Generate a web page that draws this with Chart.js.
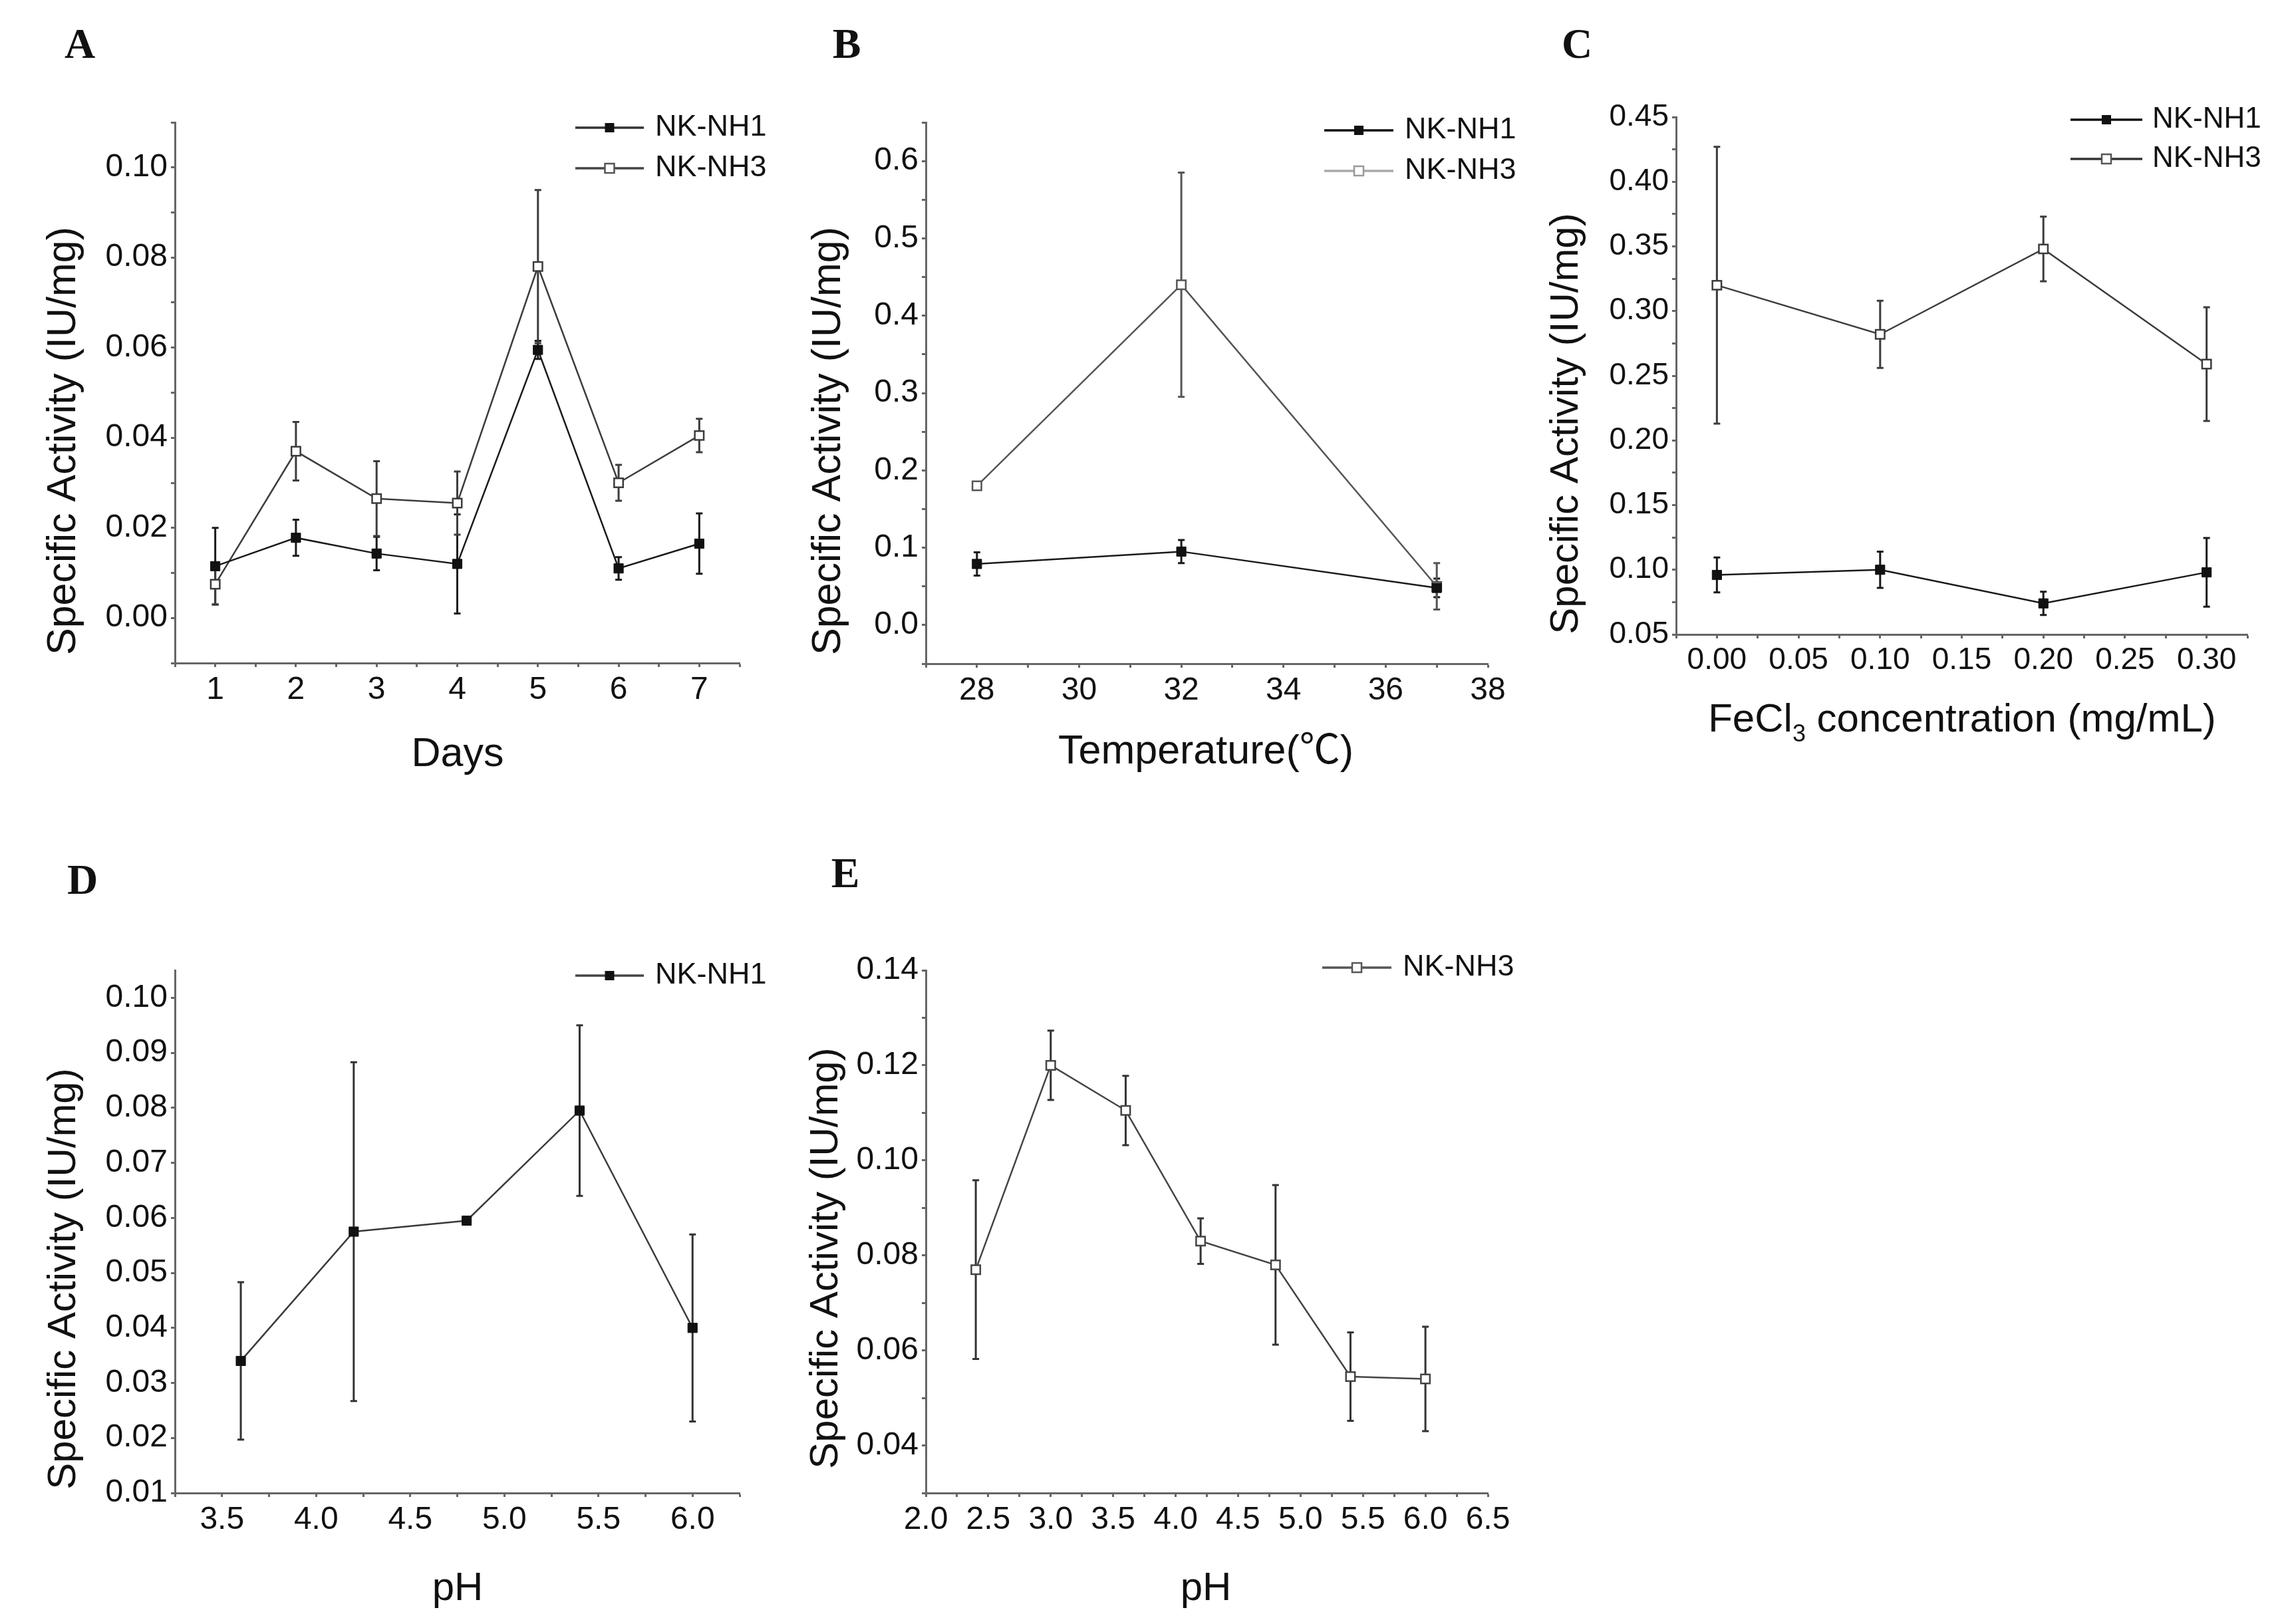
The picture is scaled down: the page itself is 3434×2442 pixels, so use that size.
<!DOCTYPE html>
<html>
<head>
<meta charset="utf-8">
<script src="https://cdn.jsdelivr.net/npm/chart.js@4.4.1/dist/chart.umd.min.js"></script>
<style>
html, body { margin: 0; padding: 0; background: #fff; }
#fig { position: relative; width: 3434px; height: 2442px; background: #fff; }
#fig canvas { position: absolute; left: 0; top: 0; }
</style>
</head>
<body>
<div id="fig"></div>
<script>
// A - days
const daysX = [1, 2, 3, 4, 5, 6, 7];
const daysNH1 = [0.0115, 0.0178, 0.0143, 0.0120, 0.0595, 0.0110, 0.0165];
const daysNH1Err = [0.0085, 0.0040, 0.0037, 0.0110, 0.0020, 0.0025, 0.0067];
const daysNH3 = [0.0075, 0.0370, 0.0265, 0.0255, 0.0780, 0.0300, 0.0405];
const daysNH3Err = [0.0045, 0.0065, 0.0083, 0.0070, 0.0170, 0.0040, 0.0037];
const daysXTicks = [1, 2, 3, 4, 5, 6, 7];
const daysYTicks = [0.00, 0.02, 0.04, 0.06, 0.08, 0.10];

// B - temperature
const tempX = [28, 32, 37];
const tempNH1 = [0.079, 0.095, 0.048];
const tempNH1Err = [0.015, 0.015, 0.012];
const tempNH3 = [0.180, 0.440, 0.050];
const tempNH3Err = [0.005, 0.145, 0.030];
const tempXTicks = [28, 30, 32, 34, 36, 38];
const tempYTicks = [0.0, 0.1, 0.2, 0.3, 0.4, 0.5, 0.6];

// C - FeCl3
const feX = [0.00, 0.10, 0.20, 0.30];
const feNH1 = [0.096, 0.100, 0.074, 0.098];
const feNH1Err = [0.0135, 0.014, 0.009, 0.0265];
const feNH3 = [0.320, 0.282, 0.348, 0.259];
const feNH3Err = [0.107, 0.026, 0.025, 0.044];
const feXTicks = [0.00, 0.05, 0.10, 0.15, 0.20, 0.25, 0.30];
const feYTicks = [0.05, 0.10, 0.15, 0.20, 0.25, 0.30, 0.35, 0.40, 0.45];

// D - pH, NK-NH1
const phNH1X = [3.6, 4.2, 4.8, 5.4, 6.0];
const phNH1 = [0.034, 0.0575, 0.0595, 0.0795, 0.040];
const phNH1Err = [0.0143, 0.0308, 0, 0.0155, 0.017];
const phNH1XTicks = [3.5, 4.0, 4.5, 5.0, 5.5, 6.0];
const phNH1YTicks = [0.01, 0.02, 0.03, 0.04, 0.05, 0.06, 0.07, 0.08, 0.09, 0.10];

// E - pH, NK-NH3
const phNH3X = [2.4, 3.0, 3.6, 4.2, 4.8, 5.4, 6.0];
const phNH3 = [0.077, 0.120, 0.1105, 0.083, 0.078, 0.0545, 0.054];
const phNH3Err = [0.0188, 0.0073, 0.0073, 0.0048, 0.0168, 0.0093, 0.011];
const phNH3XTicks = [2.0, 2.5, 3.0, 3.5, 4.0, 4.5, 5.0, 5.5, 6.0, 6.5];
const phNH3YTicks = [0.04, 0.06, 0.08, 0.10, 0.12, 0.14];

const W = 3434, H = 2442;
const SANS = '"Liberation Sans", Arial, "Noto Sans CJK SC", sans-serif';
const YW = 180, XH = 90;
const fig = document.getElementById("fig");

const errorBars = {
    id: "errorBars",
    beforeDatasetsDraw(chart)
    {
        const ctx = chart.ctx;
        const xs = chart.scales.x, ys = chart.scales.y;
        chart.data.datasets.forEach(ds =>
        {
            if(!ds.errors) return;
            ctx.save();
            ctx.strokeStyle = ds.errColor || ds.borderColor;
            ctx.lineWidth = 3;
            ds.data.forEach((p, i) =>
            {
                const e = ds.errors[i];
                if(!e) return;
                const x = xs.getPixelForValue(p.x);
                const y1 = ys.getPixelForValue(p.y + e);
                const y2 = ys.getPixelForValue(p.y - e);
                ctx.beginPath();
                ctx.moveTo(x, y1); ctx.lineTo(x, y2);
                ctx.moveTo(x - 5, y1); ctx.lineTo(x + 5, y1);
                ctx.moveTo(x - 5, y2); ctx.lineTo(x + 5, y2);
                ctx.stroke();
            });
            ctx.restore();
        });
    }
};

const deco = {
    id: "deco",
    afterDraw(chart, args, o)
    {
        const ctx = chart.ctx;
        ctx.save();
        ctx.fillStyle = "#111";

        // panel letter
        ctx.font = "bold 64px 'Liberation Serif', 'Times New Roman', serif";
        ctx.textAlign = "center";
        ctx.textBaseline = "middle";
        ctx.fillText(o.letter[0], o.letter[1], o.letter[2]);

        // y title
        ctx.font = o.titleSize + "px " + SANS;
        ctx.save();
        ctx.translate(o.yTitle[0], o.yTitle[1]);
        ctx.rotate(-Math.PI / 2);
        ctx.fillText("Specific Activity (IU/mg)", 0, 0);
        ctx.restore();

        // x title, may carry a subscript part
        const parts = o.xTitle.parts;
        let total = 0;
        parts.forEach(p =>
        {
            ctx.font = (p.sub ? Math.round(o.titleSize * 0.6) : o.titleSize) + "px " + SANS;
            total += ctx.measureText(p.t).width;
        });
        let x = o.xTitle.x - total / 2;
        ctx.textAlign = "left";
        parts.forEach(p =>
        {
            ctx.font = (p.sub ? Math.round(o.titleSize * 0.6) : o.titleSize) + "px " + SANS;
            ctx.fillText(p.t, x, o.xTitle.y + (p.sub ? 22 : 0));
            x += ctx.measureText(p.t).width;
        });

        // legend
        const lg = o.legend;
        ctx.font = lg.size + "px " + SANS;
        ctx.textBaseline = "middle";
        lg.items.forEach((it, i) =>
        {
            const y = lg.rows[i];
            ctx.strokeStyle = it.line;
            ctx.lineWidth = 3.5;
            ctx.beginPath();
            ctx.moveTo(lg.x0, y); ctx.lineTo(lg.x1, y);
            ctx.stroke();
            const cx = (lg.x0 + lg.x1) / 2;
            ctx.fillStyle = it.fill;
            ctx.fillRect(cx - 7, y - 7, 14, 14);
            if(it.fill === "#fff")
            {
                ctx.strokeStyle = it.mark;
                ctx.lineWidth = 2.5;
                ctx.strokeRect(cx - 7, y - 7, 14, 14);
            }
            ctx.fillStyle = "#111";
            ctx.fillText(it.text, lg.tx, y);
        });
        ctx.restore();
    }
};

function tickList(min, max, step)
{
    const out = [];
    const n = Math.round((max - min) / step);
    for(let i = 0; i <= n; i += 1) out.push(+(min + i * step).toFixed(6));
    return out;
}

function isMajor(v, majors)
{
    return majors.some(m => Math.abs(m - v) < 1e-9);
}

function axis(min, max, majors, minor, dec, size)
{
    return {
        type: "linear",
        min: min,
        max: max,
        afterBuildTicks: a => { a.ticks = tickList(majors[0] - Math.floor((majors[0] - min) / minor + 1e-9) * minor, max, minor).filter(v => v >= min - 1e-9 && v <= max + 1e-9).map(v => ({ value: v })); },
        ticks: {
            autoSkip: false,
            maxRotation: 0,
            padding: 5,
            color: "#111",
            font: { family: SANS, size: size },
            callback: v => isMajor(v, majors) ? v.toFixed(dec) : ""
        },
        grid: { drawOnChartArea: false, drawTicks: true, tickLength: 6, tickWidth: 3, color: "#666" },
        border: { display: true, color: "#666", width: 3 }
    };
}

function dataset(xs, ys, errs, open, color, errColor)
{
    return {
        data: xs.map((x, i) => ({ x: x, y: ys[i] })),
        errors: errs,
        errColor: errColor || color,
        showLine: true,
        borderColor: color,
        borderWidth: 2.5,
        pointStyle: "rect",
        pointRadius: open ? 9.5 : 10,
        pointBorderWidth: open ? 2.5 : 1,
        pointBackgroundColor: open ? "#fff" : "#111",
        pointBorderColor: open ? color : "#111",
        tension: 0
    };
}

function buildPanel(p)
{
    const canv = document.createElement("canvas");
    canv.width = W; canv.height = H;
    canv.style.width = W + "px"; canv.style.height = H + "px";
    fig.appendChild(canv);

    const xa = axis(p.x[0], p.x[1], p.xTicks, p.xMinor, p.xDec, p.tickSize);
    xa.afterFit = s => { s.height = XH; };
    xa.ticks.padding = 6;
    const ya = axis(p.y[0], p.y[1], p.yTicks, p.yMinor, p.yDec, p.tickSize);
    ya.afterFit = s => { s.width = YW; };

    new Chart(canv.getContext("2d"),
    {
        type: "scatter",
        data: { datasets: p.datasets },
        options: {
            responsive: false,
            animation: false,
            devicePixelRatio: 1,
            layout: { padding: { left: p.area[0] - YW, top: p.area[1], right: W - p.area[2], bottom: H - p.area[3] - XH } },
            scales: { x: xa, y: ya },
            plugins: {
                legend: { display: false },
                tooltip: { enabled: false },
                deco: p.deco
            }
        },
        plugins: [errorBars, deco]
    });
}

// A
buildPanel({
    area: [263, 184, 1112, 997],
    x: [0.5, 7.5], xTicks: daysXTicks, xMinor: 0.5, xDec: 0,
    y: [-0.01, 0.11], yTicks: daysYTicks, yMinor: 0.01, yDec: 2,
    tickSize: 48,
    datasets: [
        dataset(daysX, daysNH1, daysNH1Err, false, "#1a1a1a"),
        dataset(daysX, daysNH3, daysNH3Err, true, "#3c3c3c")
    ],
    deco: {
        letter: ["A", 120, 70],
        titleSize: 61,
        yTitle: [96, 663],
        xTitle: { x: 688, y: 1135, parts: [{ t: "Days" }] },
        legend: { x0: 865, x1: 968, tx: 985, rows: [192, 253], size: 45, items: [
            { text: "NK-NH1", line: "#333", fill: "#111" },
            { text: "NK-NH3", line: "#444", fill: "#fff", mark: "#555" }
        ] }
    }
});

// B
buildPanel({
    area: [1392, 184, 2237, 998],
    x: [27, 38], xTicks: tempXTicks, xMinor: 1, xDec: 0,
    y: [-0.05, 0.65], yTicks: tempYTicks, yMinor: 0.05, yDec: 1,
    tickSize: 48,
    datasets: [
        dataset(tempX, tempNH1, tempNH1Err, false, "#1a1a1a"),
        dataset(tempX, tempNH3, tempNH3Err, true, "#555")
    ],
    deco: {
        letter: ["B", 1273, 70],
        titleSize: 61,
        yTitle: [1246, 663],
        xTitle: { x: 1813, y: 1131, parts: [{ t: "Temperature(\u2103)" }] },
        legend: { x0: 1991, x1: 2095, tx: 2112, rows: [196, 257], size: 45, items: [
            { text: "NK-NH1", line: "#111", fill: "#111" },
            { text: "NK-NH3", line: "#aaa", fill: "#fff", mark: "#999" }
        ] }
    }
});

// C
buildPanel({
    area: [2520, 176, 3379, 954],
    x: [-0.025, 0.325], xTicks: feXTicks, xMinor: 0.025, xDec: 2,
    y: [0.05, 0.45], yTicks: feYTicks, yMinor: 0.025, yDec: 2,
    tickSize: 46,
    datasets: [
        dataset(feX, feNH1, feNH1Err, false, "#1a1a1a"),
        dataset(feX, feNH3, feNH3Err, true, "#3c3c3c")
    ],
    deco: {
        letter: ["C", 2371, 70],
        titleSize: 60,
        yTitle: [2355, 637],
        xTitle: { x: 2950, y: 1083, parts: [{ t: "FeCl" }, { t: "3", sub: true }, { t: " concentration (mg/mL)" }] },
        legend: { x0: 3113, x1: 3221, tx: 3236, rows: [180, 239], size: 44, items: [
            { text: "NK-NH1", line: "#111", fill: "#111" },
            { text: "NK-NH3", line: "#333", fill: "#fff", mark: "#555" }
        ] }
    }
});

// D
buildPanel({
    area: [263, 1459, 1112, 2245],
    x: [3.25, 6.25], xTicks: phNH1XTicks, xMinor: 0.25, xDec: 1,
    y: [0.01, 0.105], yTicks: phNH1YTicks, yMinor: 0.01, yDec: 2,
    tickSize: 48,
    datasets: [
        dataset(phNH1X, phNH1, phNH1Err, false, "#3a3a3a", "#333")
    ],
    deco: {
        letter: ["D", 124, 1327],
        titleSize: 60,
        yTitle: [96, 1923],
        xTitle: { x: 688, y: 2389, parts: [{ t: "pH" }] },
        legend: { x0: 865, x1: 968, tx: 985, rows: [1467], size: 45, items: [
            { text: "NK-NH1", line: "#444", fill: "#111" }
        ] }
    }
});

// E
buildPanel({
    area: [1392, 1459, 2237, 2245],
    x: [2.0, 6.5], xTicks: phNH3XTicks, xMinor: 0.25, xDec: 1,
    y: [0.03, 0.14], yTicks: phNH3YTicks, yMinor: 0.01, yDec: 2,
    tickSize: 48,
    datasets: [
        dataset(phNH3X, phNH3, phNH3Err, true, "#444", "#333")
    ],
    deco: {
        letter: ["E", 1271, 1317],
        titleSize: 60,
        yTitle: [1242, 1892],
        xTitle: { x: 1813, y: 2389, parts: [{ t: "pH" }] },
        legend: { x0: 1988, x1: 2092, tx: 2109, rows: [1455], size: 45, items: [
            { text: "NK-NH3", line: "#555", fill: "#fff", mark: "#555" }
        ] }
    }
});
</script>
</body>
</html>
